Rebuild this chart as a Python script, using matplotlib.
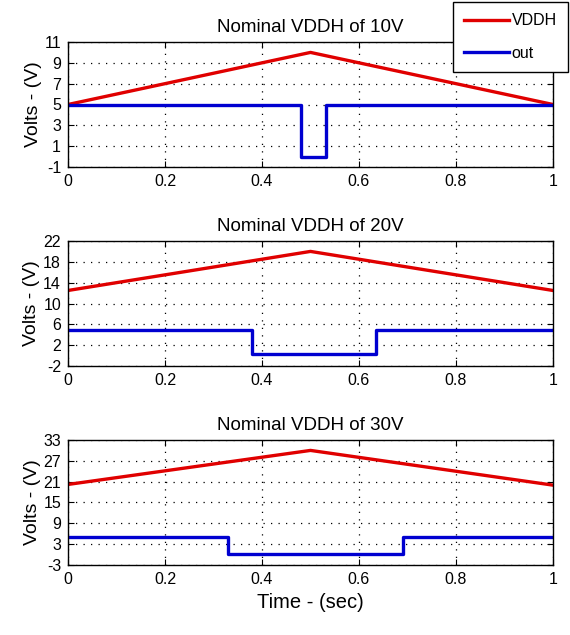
import matplotlib
matplotlib.use("Agg")
import matplotlib.pyplot as plt

# data
nominal = [10, 20, 30]
t_vddh = [0.0, 0.5, 1.0]
vddh = [[5.0, 10.0, 5.0],
        [12.5, 20.0, 12.5],
        [20.2, 30.0, 20.0]]
# out: step edges (time, level held from that time on)
t_out = [[0.0, 0.48, 0.532, 1.0],
         [0.0, 0.38, 0.635, 1.0],
         [0.0, 0.33, 0.69, 1.0]]
v_out = [[5.0, 0.0, 5.0, 5.0],
         [5.0, 0.3, 5.0, 5.0],
         [5.0, 0.3, 5.0, 5.0]]
yticks = [[-1, 1, 3, 5, 7, 9, 11],
          [-2, 2, 6, 10, 14, 18, 22],
          [-3, 3, 9, 15, 21, 27, 33]]
xticks = [0, 0.2, 0.4, 0.6, 0.8, 1]
xticklabels = ["0", "0.2", "0.4", "0.6", "0.8", "1"]

plt.rcParams['font.family'] = ['Liberation Sans', 'DejaVu Sans']
plt.rcParams['font.size'] = 11
plt.rcParams['axes.unicode_minus'] = False
plt.rcParams['xtick.direction'] = 'in'
plt.rcParams['ytick.direction'] = 'in'
plt.rcParams['xtick.top'] = True
plt.rcParams['ytick.right'] = True
plt.rcParams['axes.linewidth'] = 1.0

fig = plt.figure(figsize=(5.7, 6.35), dpi=100)
left, width, height = 68 / 570, (553 - 68) / 570, 125 / 635
bottoms = [1 - 167 / 635, 1 - 366 / 635, 1 - 565 / 635]

for i in range(3):
    ax = fig.add_axes([left, bottoms[i], width, height])
    l1, = ax.plot(t_vddh, vddh[i], color='#e00000', lw=2.4, label='VDDH')
    l2, = ax.plot(t_out[i], v_out[i], color='#0000d0', lw=2.4,
                  drawstyle='steps-post', label='out')
    ax.set_xlim(0, 1)
    ax.set_ylim(yticks[i][0], yticks[i][-1])
    ax.set_yticks(yticks[i])
    ax.set_xticks(xticks)
    ax.set_xticklabels(xticklabels)
    ax.tick_params(length=4, width=0.8, pad=5, labelsize=11.5)
    ax.grid(True, color='black', linestyle=(0, (1, 5)), linewidth=0.9)
    ax.set_title("Nominal VDDH of %dV" % nominal[i], fontsize=13.5, pad=7)
    ax.set_ylabel("Volts - (V)", fontsize=14, labelpad=2)
    if i == 2:
        ax.set_xlabel("Time - (sec)", fontsize=14.5, labelpad=4)

fig.legend([l1, l2], ['VDDH', 'out'], loc='upper right',
           bbox_to_anchor=(568 / 570, 1 - 2 / 635), fancybox=False,
           edgecolor='black', framealpha=1, fontsize=11.5, handlelength=2.8,
           labelspacing=1.1, handletextpad=0.2, borderpad=0.7,
           borderaxespad=0)

plt.savefig("out.png", dpi=100)
